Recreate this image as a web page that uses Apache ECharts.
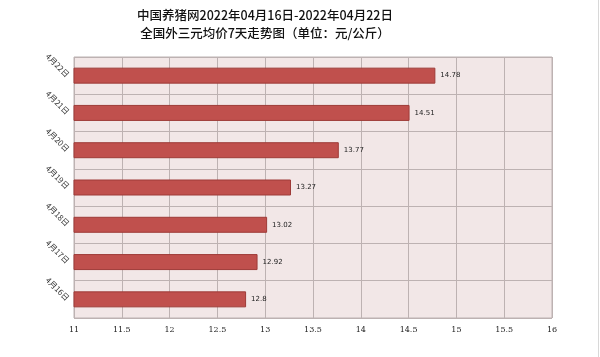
<!DOCTYPE html>
<html><head><meta charset="utf-8">
<script src="https://cdn.jsdelivr.net/npm/echarts@6/dist/echarts.min.js"></script>
<style>html,body{margin:0;padding:0;background:#fff}#c{width:600px;height:357px}</style>
</head><body><div id="c"></div>
<script>
const categories = ['4月16日','4月17日','4月18日','4月19日','4月20日','4月21日','4月22日'];
const prices = [12.8, 12.92, 13.02, 13.27, 13.77, 14.51, 14.78];
const titleLines = ['中国养猪网2022年04月16日-2022年04月22日', '全国外三元均价7天走势图（单位：元/公斤）'];

const titleFont = {fontFamily: 'Noto Sans CJK SC', fontSize: 12.5, fontWeight: 500, fill: '#111', textAlign: 'center', textVerticalAlign: 'middle'};
const chart = echarts.init(document.getElementById('c'));
chart.setOption({
  animation: false,
  backgroundColor: '#fff',
  graphic: [
    {type: 'line', shape: {x1: 598.5, y1: 0, x2: 598.5, y2: 357}, style: {stroke: '#d8d8d8', lineWidth: 1}},
    {type: 'text', x: 265, y: 15, style: Object.assign({text: titleLines[0]}, titleFont)},
    {type: 'text', x: 265, y: 33, style: Object.assign({text: titleLines[1]}, titleFont)}
  ],
  grid: {left: 74, right: 48, top: 57, bottom: 39, show: true, backgroundColor: '#F2E7E7', borderColor: '#BDB2B2', borderWidth: 1},
  xAxis: {
    type: 'value', min: 11, max: 16, interval: 0.5,
    axisLine: {show: false}, axisTick: {show: false},
    axisLabel: {fontSize: 8, color: '#222', margin: 8, fontFamily: 'DejaVu Serif'},
    splitLine: {lineStyle: {color: '#BDB2B2', width: 1}}
  },
  yAxis: {
    type: 'category', data: categories,
    axisLine: {show: false}, axisTick: {show: false},
    axisLabel: {rotate: -45, fontSize: 8, color: '#333', margin: 6, fontFamily: 'Noto Sans CJK SC'},
    splitLine: {show: true, lineStyle: {color: '#BDB2B2', width: 1}}
  },
  series: [{
    type: 'bar', data: prices, barWidth: 16,
    itemStyle: {color: '#C0504D', borderColor: '#9E3B38', borderWidth: 1},
    label: {show: true, position: 'right', distance: 5, fontSize: 7, color: '#222', fontFamily: 'DejaVu Sans'}
  }]
});
</script></body></html>
